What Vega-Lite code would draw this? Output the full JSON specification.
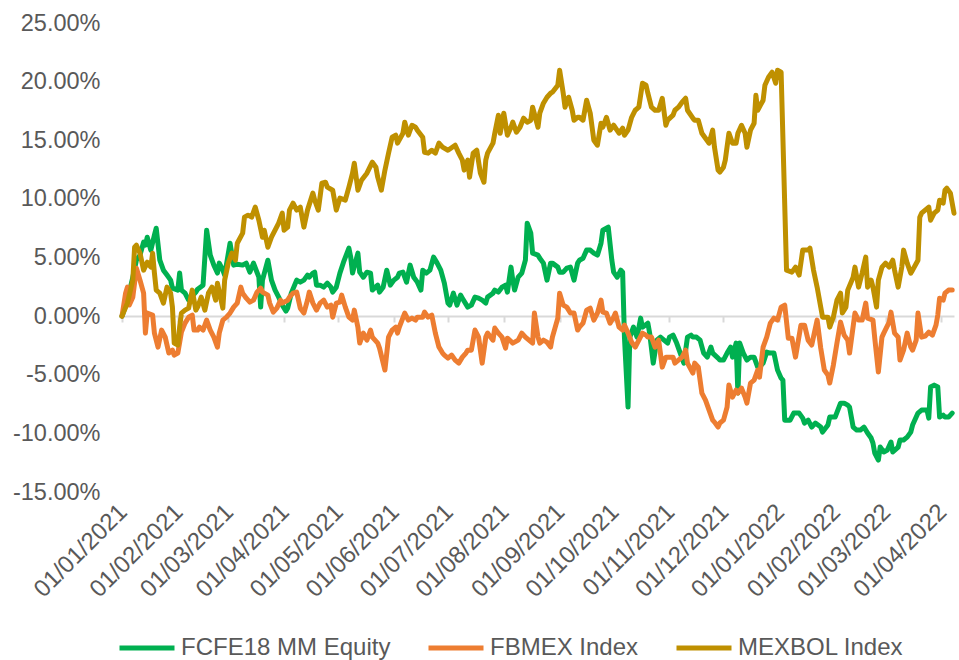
{
  "$schema": "https://vega.github.io/schema/vega-lite/v6.json",
  "width": 832,
  "height": 469,
  "autosize": {"type": "none"},
  "padding": {"left": 122, "top": 23, "right": 5, "bottom": 168},
  "background": "white",
  "config": {
    "view": {"stroke": null},
    "font": "Liberation Sans",
    "axis": {"labelFont": "Liberation Sans", "labelColor": "#595959", "labelFontSize": 23.5},
    "legend": {"labelFont": "Liberation Sans"}
  },
  "datasets": {
    "fcfe": [
      {"date":"2021-01-01","value":0},{"date":"2021-01-04","value":1.36},{"date":"2021-01-07","value":3.32},{"date":"2021-01-09","value":4.77},{"date":"2021-01-11","value":5.2},{"date":"2021-01-13","value":6.31},{"date":"2021-01-14","value":6.05},{"date":"2021-01-15","value":6.73},{"date":"2021-01-17","value":5.63},{"date":"2021-01-19","value":6.91},{"date":"2021-01-20","value":7.5},{"date":"2021-01-22","value":4.77},{"date":"2021-01-24","value":3.92},{"date":"2021-01-26","value":3.5},{"date":"2021-01-28","value":3.07},{"date":"2021-01-29","value":2.39},{"date":"2021-02-01","value":2.22},{"date":"2021-02-02","value":3.67},{"date":"2021-02-03","value":2.22},{"date":"2021-02-05","value":1.96},{"date":"2021-02-07","value":1.36},{"date":"2021-02-09","value":1.7},{"date":"2021-02-11","value":2.05},{"date":"2021-02-12","value":2.3},{"date":"2021-02-15","value":2.64},{"date":"2021-02-17","value":7.33},{"date":"2021-02-19","value":5.2},{"date":"2021-02-21","value":4.35},{"date":"2021-02-23","value":3.67},{"date":"2021-02-24","value":4.52},{"date":"2021-02-26","value":3.92},{"date":"2021-02-27","value":3.5},{"date":"2021-03-02","value":6.22},{"date":"2021-03-04","value":4.35},{"date":"2021-03-06","value":4.43},{"date":"2021-03-09","value":4.35},{"date":"2021-03-11","value":4.52},{"date":"2021-03-13","value":3.75},{"date":"2021-03-15","value":4.52},{"date":"2021-03-18","value":3.32},{"date":"2021-03-19","value":0.77},{"date":"2021-03-20","value":3.07},{"date":"2021-03-23","value":4.77},{"date":"2021-03-25","value":3.07},{"date":"2021-03-27","value":2.22},{"date":"2021-03-29","value":1.62},{"date":"2021-03-31","value":0.94},{"date":"2021-04-02","value":0.43},{"date":"2021-04-03","value":0.68},{"date":"2021-04-05","value":1.96},{"date":"2021-04-08","value":3.07},{"date":"2021-04-10","value":2.9},{"date":"2021-04-12","value":3.07},{"date":"2021-04-14","value":3.5},{"date":"2021-04-15","value":3.32},{"date":"2021-04-17","value":3.67},{"date":"2021-04-18","value":3.75},{"date":"2021-04-19","value":2.64},{"date":"2021-04-21","value":2.64},{"date":"2021-04-23","value":2.47},{"date":"2021-04-25","value":2.81},{"date":"2021-04-27","value":2.47},{"date":"2021-04-28","value":2.05},{"date":"2021-04-30","value":2.47},{"date":"2021-05-02","value":3.67},{"date":"2021-05-04","value":4.6},{"date":"2021-05-07","value":5.8},{"date":"2021-05-08","value":5.03},{"date":"2021-05-09","value":3.67},{"date":"2021-05-12","value":5.37},{"date":"2021-05-13","value":3.75},{"date":"2021-05-15","value":3.32},{"date":"2021-05-17","value":3.75},{"date":"2021-05-19","value":3.67},{"date":"2021-05-20","value":2.22},{"date":"2021-05-23","value":2.64},{"date":"2021-05-24","value":2.05},{"date":"2021-05-26","value":2.47},{"date":"2021-05-28","value":3.92},{"date":"2021-05-30","value":2.64},{"date":"2021-06-01","value":3.07},{"date":"2021-06-03","value":3.32},{"date":"2021-06-04","value":3.67},{"date":"2021-06-06","value":3.75},{"date":"2021-06-08","value":2.9},{"date":"2021-06-10","value":4.35},{"date":"2021-06-12","value":3.32},{"date":"2021-06-14","value":2.9},{"date":"2021-06-16","value":2.22},{"date":"2021-06-17","value":3.92},{"date":"2021-06-19","value":3.67},{"date":"2021-06-21","value":3.92},{"date":"2021-06-23","value":5.03},{"date":"2021-06-25","value":4.52},{"date":"2021-06-27","value":3.92},{"date":"2021-06-29","value":2.81},{"date":"2021-07-01","value":1.11},{"date":"2021-07-02","value":0.94},{"date":"2021-07-04","value":1.96},{"date":"2021-07-06","value":0.94},{"date":"2021-07-08","value":1.79},{"date":"2021-07-09","value":1.53},{"date":"2021-07-12","value":0.77},{"date":"2021-07-14","value":0.94},{"date":"2021-07-16","value":1.62},{"date":"2021-07-18","value":1.53},{"date":"2021-07-20","value":1.36},{"date":"2021-07-22","value":1.11},{"date":"2021-07-23","value":1.62},{"date":"2021-07-26","value":1.96},{"date":"2021-07-27","value":2.22},{"date":"2021-07-29","value":2.05},{"date":"2021-07-31","value":2.47},{"date":"2021-08-02","value":2.64},{"date":"2021-08-03","value":2.05},{"date":"2021-08-05","value":4.18},{"date":"2021-08-06","value":3.07},{"date":"2021-08-07","value":2.22},{"date":"2021-08-09","value":3.32},{"date":"2021-08-11","value":3.67},{"date":"2021-08-13","value":4.77},{"date":"2021-08-14","value":7.93},{"date":"2021-08-16","value":7.08},{"date":"2021-08-17","value":5.37},{"date":"2021-08-20","value":5.2},{"date":"2021-08-21","value":4.94},{"date":"2021-08-23","value":4.52},{"date":"2021-08-25","value":3.07},{"date":"2021-08-27","value":4.52},{"date":"2021-08-28","value":4.52},{"date":"2021-08-31","value":4.18},{"date":"2021-09-01","value":3.75},{"date":"2021-09-03","value":3.75},{"date":"2021-09-05","value":4.09},{"date":"2021-09-07","value":4.18},{"date":"2021-09-09","value":3.07},{"date":"2021-09-11","value":4.52},{"date":"2021-09-12","value":4.77},{"date":"2021-09-14","value":4.94},{"date":"2021-09-16","value":5.63},{"date":"2021-09-18","value":5.63},{"date":"2021-09-20","value":5.37},{"date":"2021-09-22","value":5.2},{"date":"2021-09-24","value":6.22},{"date":"2021-09-25","value":7.33},{"date":"2021-09-28","value":7.59},{"date":"2021-09-30","value":4.77},{"date":"2021-10-01","value":3.75},{"date":"2021-10-03","value":3.32},{"date":"2021-10-05","value":3.92},{"date":"2021-10-06","value":3.75},{"date":"2021-10-07","value":-1.79},{"date":"2021-10-09","value":-7.76},{"date":"2021-10-10","value":-1.79},{"date":"2021-10-12","value":-0.94},{"date":"2021-10-14","value":-1.79},{"date":"2021-10-16","value":-0.17},{"date":"2021-10-17","value":-0.94},{"date":"2021-10-20","value":-0.6},{"date":"2021-10-21","value":-1.45},{"date":"2021-10-23","value":-4.01},{"date":"2021-10-25","value":-2.05},{"date":"2021-10-27","value":-1.79},{"date":"2021-10-29","value":-2.05},{"date":"2021-10-31","value":-2.3},{"date":"2021-11-01","value":-1.79},{"date":"2021-11-03","value":-1.62},{"date":"2021-11-05","value":-2.3},{"date":"2021-11-07","value":-3.15},{"date":"2021-11-09","value":-4.01},{"date":"2021-11-11","value":-1.79},{"date":"2021-11-13","value":-1.62},{"date":"2021-11-14","value":-1.79},{"date":"2021-11-16","value":-1.79},{"date":"2021-11-18","value":-2.05},{"date":"2021-11-20","value":-3.15},{"date":"2021-11-22","value":-3.5},{"date":"2021-11-24","value":-2.64},{"date":"2021-11-25","value":-3.15},{"date":"2021-11-28","value":-3.58},{"date":"2021-11-29","value":-3.75},{"date":"2021-12-01","value":-3.75},{"date":"2021-12-03","value":-3.15},{"date":"2021-12-05","value":-2.64},{"date":"2021-12-06","value":-3.5},{"date":"2021-12-08","value":-2.3},{"date":"2021-12-09","value":-6.56},{"date":"2021-12-10","value":-2.3},{"date":"2021-12-12","value":-3.15},{"date":"2021-12-14","value":-3.75},{"date":"2021-12-16","value":-3.5},{"date":"2021-12-18","value":-3.5},{"date":"2021-12-20","value":-4.35},{"date":"2021-12-21","value":-4.35},{"date":"2021-12-23","value":-4.01},{"date":"2021-12-25","value":-3.07},{"date":"2021-12-27","value":-3.15},{"date":"2021-12-29","value":-3.15},{"date":"2021-12-31","value":-4.6},{"date":"2022-01-02","value":-5.29},{"date":"2022-01-03","value":-5.46},{"date":"2022-01-04","value":-8.87},{"date":"2022-01-07","value":-8.87},{"date":"2022-01-09","value":-8.27},{"date":"2022-01-12","value":-8.27},{"date":"2022-01-14","value":-8.7},{"date":"2022-01-15","value":-9.12},{"date":"2022-01-17","value":-8.87},{"date":"2022-01-19","value":-9.46},{"date":"2022-01-21","value":-9.12},{"date":"2022-01-24","value":-9.46},{"date":"2022-01-25","value":-9.89},{"date":"2022-01-28","value":-9.29},{"date":"2022-01-29","value":-8.61},{"date":"2022-02-01","value":-8.61},{"date":"2022-02-04","value":-7.42},{"date":"2022-02-06","value":-7.42},{"date":"2022-02-08","value":-7.59},{"date":"2022-02-09","value":-7.76},{"date":"2022-02-11","value":-9.46},{"date":"2022-02-13","value":-9.72},{"date":"2022-02-15","value":-9.72},{"date":"2022-02-17","value":-9.46},{"date":"2022-02-19","value":-9.97},{"date":"2022-02-21","value":-10.4},{"date":"2022-02-22","value":-10.83},{"date":"2022-02-23","value":-11.68},{"date":"2022-02-25","value":-12.28},{"date":"2022-02-26","value":-11.17},{"date":"2022-02-28","value":-11.59},{"date":"2022-03-02","value":-11.42},{"date":"2022-03-04","value":-10.74},{"date":"2022-03-05","value":-11.59},{"date":"2022-03-08","value":-11.17},{"date":"2022-03-09","value":-10.57},{"date":"2022-03-11","value":-10.57},{"date":"2022-03-13","value":-10.32},{"date":"2022-03-15","value":-9.89},{"date":"2022-03-16","value":-9.29},{"date":"2022-03-19","value":-8.27},{"date":"2022-03-21","value":-8.01},{"date":"2022-03-24","value":-8.01},{"date":"2022-03-25","value":-8.7},{"date":"2022-03-26","value":-6.05},{"date":"2022-03-28","value":-5.88},{"date":"2022-03-30","value":-6.05},{"date":"2022-03-31","value":-8.61},{"date":"2022-04-02","value":-8.44},{"date":"2022-04-03","value":-8.61},{"date":"2022-04-05","value":-8.61},{"date":"2022-04-07","value":-8.27}
    ],
    "fbmex": [
      {"date":"2021-01-01","value":0},{"date":"2021-01-03","value":1.96},{"date":"2021-01-04","value":2.47},{"date":"2021-01-05","value":0.94},{"date":"2021-01-07","value":1.62},{"date":"2021-01-09","value":4.09},{"date":"2021-01-11","value":3.07},{"date":"2021-01-13","value":1.96},{"date":"2021-01-14","value":-1.45},{"date":"2021-01-15","value":0.26},{"date":"2021-01-18","value":0.09},{"date":"2021-01-19","value":-1.45},{"date":"2021-01-21","value":-2.64},{"date":"2021-01-23","value":-1.19},{"date":"2021-01-25","value":-1.79},{"date":"2021-01-27","value":-3.15},{"date":"2021-01-29","value":-2.9},{"date":"2021-01-30","value":-3.32},{"date":"2021-02-01","value":-3.15},{"date":"2021-02-03","value":-1.36},{"date":"2021-02-05","value":-0.6},{"date":"2021-02-07","value":-0.09},{"date":"2021-02-09","value":0.09},{"date":"2021-02-10","value":-1.19},{"date":"2021-02-12","value":-1.19},{"date":"2021-02-13","value":-0.94},{"date":"2021-02-15","value":-1.19},{"date":"2021-02-17","value":-0.34},{"date":"2021-02-19","value":-1.19},{"date":"2021-02-21","value":-1.79},{"date":"2021-02-23","value":-2.64},{"date":"2021-02-24","value":-1.45},{"date":"2021-02-26","value":-0.34},{"date":"2021-02-28","value":-0.09},{"date":"2021-03-02","value":0.26},{"date":"2021-03-04","value":0.77},{"date":"2021-03-06","value":1.11},{"date":"2021-03-08","value":2.47},{"date":"2021-03-09","value":1.96},{"date":"2021-03-11","value":1.53},{"date":"2021-03-13","value":1.19},{"date":"2021-03-15","value":1.36},{"date":"2021-03-17","value":2.05},{"date":"2021-03-19","value":2.39},{"date":"2021-03-20","value":2.05},{"date":"2021-03-23","value":1.79},{"date":"2021-03-24","value":1.11},{"date":"2021-03-26","value":0.34},{"date":"2021-03-28","value":0.68},{"date":"2021-03-30","value":1.36},{"date":"2021-03-31","value":1.11},{"date":"2021-04-03","value":1.36},{"date":"2021-04-04","value":1.62},{"date":"2021-04-06","value":1.96},{"date":"2021-04-08","value":2.05},{"date":"2021-04-10","value":0.68},{"date":"2021-04-12","value":0.26},{"date":"2021-04-14","value":1.36},{"date":"2021-04-15","value":2.05},{"date":"2021-04-17","value":1.11},{"date":"2021-04-19","value":0.51},{"date":"2021-04-21","value":1.11},{"date":"2021-04-23","value":1.36},{"date":"2021-04-25","value":0.77},{"date":"2021-04-27","value":0.94},{"date":"2021-04-28","value":-0.09},{"date":"2021-04-30","value":1.11},{"date":"2021-05-02","value":1.19},{"date":"2021-05-03","value":1.79},{"date":"2021-05-05","value":0.77},{"date":"2021-05-07","value":-0.09},{"date":"2021-05-09","value":-0.34},{"date":"2021-05-10","value":0.51},{"date":"2021-05-12","value":-0.94},{"date":"2021-05-13","value":-2.3},{"date":"2021-05-15","value":-1.45},{"date":"2021-05-17","value":-2.05},{"date":"2021-05-19","value":-1.19},{"date":"2021-05-20","value":-1.79},{"date":"2021-05-23","value":-2.3},{"date":"2021-05-24","value":-2.73},{"date":"2021-05-27","value":-4.6},{"date":"2021-05-29","value":-1.79},{"date":"2021-05-31","value":-1.19},{"date":"2021-06-02","value":-0.94},{"date":"2021-06-03","value":-1.45},{"date":"2021-06-04","value":-0.94},{"date":"2021-06-07","value":0.26},{"date":"2021-06-09","value":-0.34},{"date":"2021-06-11","value":-0.17},{"date":"2021-06-13","value":-0.34},{"date":"2021-06-14","value":-0.09},{"date":"2021-06-17","value":-0.09},{"date":"2021-06-18","value":0.34},{"date":"2021-06-20","value":-0.09},{"date":"2021-06-22","value":0.09},{"date":"2021-06-24","value":-1.45},{"date":"2021-06-26","value":-2.64},{"date":"2021-06-28","value":-3.15},{"date":"2021-06-29","value":-3.32},{"date":"2021-07-01","value":-3.58},{"date":"2021-07-03","value":-3.32},{"date":"2021-07-05","value":-3.75},{"date":"2021-07-07","value":-4.01},{"date":"2021-07-09","value":-3.5},{"date":"2021-07-11","value":-3.15},{"date":"2021-07-12","value":-2.9},{"date":"2021-07-14","value":-2.9},{"date":"2021-07-16","value":-1.19},{"date":"2021-07-18","value":-1.79},{"date":"2021-07-20","value":-4.01},{"date":"2021-07-22","value":-1.79},{"date":"2021-07-23","value":-1.45},{"date":"2021-07-26","value":-2.05},{"date":"2021-07-27","value":-1.02},{"date":"2021-07-29","value":-1.45},{"date":"2021-07-31","value":-1.79},{"date":"2021-08-02","value":-2.73},{"date":"2021-08-03","value":-1.88},{"date":"2021-08-06","value":-2.3},{"date":"2021-08-07","value":-2.22},{"date":"2021-08-09","value":-2.05},{"date":"2021-08-11","value":-1.45},{"date":"2021-08-13","value":-1.79},{"date":"2021-08-15","value":-2.05},{"date":"2021-08-17","value":-2.3},{"date":"2021-08-18","value":0.26},{"date":"2021-08-20","value":-1.79},{"date":"2021-08-21","value":-2.3},{"date":"2021-08-23","value":-2.05},{"date":"2021-08-25","value":-2.22},{"date":"2021-08-27","value":-2.64},{"date":"2021-08-28","value":-1.79},{"date":"2021-08-31","value":-0.17},{"date":"2021-09-01","value":1.96},{"date":"2021-09-03","value":0.94},{"date":"2021-09-05","value":0.77},{"date":"2021-09-07","value":0.26},{"date":"2021-09-09","value":0.26},{"date":"2021-09-11","value":-1.19},{"date":"2021-09-12","value":-0.94},{"date":"2021-09-14","value":-0.6},{"date":"2021-09-16","value":0.51},{"date":"2021-09-18","value":0.68},{"date":"2021-09-20","value":-0.34},{"date":"2021-09-22","value":0.26},{"date":"2021-09-24","value":1.36},{"date":"2021-09-25","value":0.34},{"date":"2021-09-27","value":0.26},{"date":"2021-09-29","value":-0.6},{"date":"2021-10-01","value":-0.09},{"date":"2021-10-02","value":0.26},{"date":"2021-10-04","value":-0.94},{"date":"2021-10-06","value":-1.19},{"date":"2021-10-07","value":-0.77},{"date":"2021-10-09","value":-1.45},{"date":"2021-10-11","value":-2.22},{"date":"2021-10-13","value":-2.64},{"date":"2021-10-15","value":-2.05},{"date":"2021-10-17","value":-1.45},{"date":"2021-10-19","value":-1.62},{"date":"2021-10-20","value":-1.79},{"date":"2021-10-22","value":-1.79},{"date":"2021-10-24","value":-2.64},{"date":"2021-10-26","value":-2.05},{"date":"2021-10-28","value":-4.35},{"date":"2021-10-30","value":-3.5},{"date":"2021-10-31","value":-3.5},{"date":"2021-11-03","value":-3.5},{"date":"2021-11-04","value":-4.01},{"date":"2021-11-06","value":-3.75},{"date":"2021-11-08","value":-3.5},{"date":"2021-11-10","value":-2.9},{"date":"2021-11-11","value":-4.01},{"date":"2021-11-14","value":-4.86},{"date":"2021-11-15","value":-4.01},{"date":"2021-11-17","value":-4.35},{"date":"2021-11-19","value":-6.56},{"date":"2021-11-21","value":-7.16},{"date":"2021-11-23","value":-8.01},{"date":"2021-11-25","value":-8.87},{"date":"2021-11-26","value":-9.04},{"date":"2021-11-28","value":-9.46},{"date":"2021-11-29","value":-9.12},{"date":"2021-12-01","value":-8.87},{"date":"2021-12-03","value":-7.76},{"date":"2021-12-04","value":-5.88},{"date":"2021-12-06","value":-6.91},{"date":"2021-12-08","value":-6.31},{"date":"2021-12-09","value":-6.56},{"date":"2021-12-11","value":-6.14},{"date":"2021-12-13","value":-6.91},{"date":"2021-12-14","value":-7.42},{"date":"2021-12-16","value":-5.71},{"date":"2021-12-18","value":-5.46},{"date":"2021-12-20","value":-4.6},{"date":"2021-12-21","value":-5.2},{"date":"2021-12-23","value":-2.64},{"date":"2021-12-25","value":-1.79},{"date":"2021-12-27","value":-0.6},{"date":"2021-12-29","value":-0.17},{"date":"2021-12-31","value":-0.34},{"date":"2022-01-02","value":0.77},{"date":"2022-01-04","value":0.94},{"date":"2022-01-06","value":-1.88},{"date":"2022-01-08","value":-1.88},{"date":"2022-01-10","value":-3.5},{"date":"2022-01-13","value":-0.77},{"date":"2022-01-15","value":-0.77},{"date":"2022-01-17","value":-2.05},{"date":"2022-01-19","value":-2.47},{"date":"2022-01-22","value":-0.34},{"date":"2022-01-24","value":-2.73},{"date":"2022-01-26","value":-4.6},{"date":"2022-01-28","value":-5.03},{"date":"2022-01-29","value":-5.71},{"date":"2022-01-31","value":-4.18},{"date":"2022-02-02","value":-2.3},{"date":"2022-02-04","value":-0.51},{"date":"2022-02-06","value":-1.62},{"date":"2022-02-08","value":-2.05},{"date":"2022-02-09","value":-3.15},{"date":"2022-02-12","value":0.26},{"date":"2022-02-14","value":-0.34},{"date":"2022-02-16","value":-0.34},{"date":"2022-02-18","value":1.11},{"date":"2022-02-19","value":-0.17},{"date":"2022-02-22","value":-0.34},{"date":"2022-02-23","value":-1.88},{"date":"2022-02-25","value":-4.77},{"date":"2022-02-27","value":-1.79},{"date":"2022-02-28","value":-1.45},{"date":"2022-03-03","value":-0.51},{"date":"2022-03-04","value":0.34},{"date":"2022-03-06","value":-1.45},{"date":"2022-03-08","value":-1.79},{"date":"2022-03-09","value":-3.75},{"date":"2022-03-11","value":-2.9},{"date":"2022-03-13","value":-1.45},{"date":"2022-03-15","value":-2.64},{"date":"2022-03-16","value":-2.9},{"date":"2022-03-18","value":-2.05},{"date":"2022-03-19","value":0.26},{"date":"2022-03-21","value":-1.79},{"date":"2022-03-23","value":-1.71},{"date":"2022-03-25","value":-1.36},{"date":"2022-03-27","value":-1.62},{"date":"2022-03-29","value":-0.77},{"date":"2022-03-30","value":0.09},{"date":"2022-03-31","value":1.53},{"date":"2022-04-02","value":1.36},{"date":"2022-04-03","value":1.96},{"date":"2022-04-05","value":2.22},{"date":"2022-04-07","value":2.22}
    ],
    "mexbol": [
      {"date":"2021-01-01","value":0},{"date":"2021-01-04","value":1.11},{"date":"2021-01-07","value":3.07},{"date":"2021-01-08","value":5.88},{"date":"2021-01-09","value":6.05},{"date":"2021-01-11","value":5.37},{"date":"2021-01-13","value":3.92},{"date":"2021-01-15","value":4.6},{"date":"2021-01-17","value":4.18},{"date":"2021-01-18","value":5.37},{"date":"2021-01-19","value":3.67},{"date":"2021-01-20","value":2.22},{"date":"2021-01-22","value":1.96},{"date":"2021-01-24","value":1.11},{"date":"2021-01-26","value":2.47},{"date":"2021-01-28","value":1.96},{"date":"2021-01-29","value":0.77},{"date":"2021-01-30","value":-2.3},{"date":"2021-02-01","value":-2.47},{"date":"2021-02-02","value":-0.94},{"date":"2021-02-03","value":0.26},{"date":"2021-02-05","value":0.51},{"date":"2021-02-07","value":0.68},{"date":"2021-02-09","value":2.22},{"date":"2021-02-11","value":0.51},{"date":"2021-02-12","value":0.77},{"date":"2021-02-14","value":1.62},{"date":"2021-02-16","value":0.51},{"date":"2021-02-18","value":1.96},{"date":"2021-02-20","value":2.47},{"date":"2021-02-22","value":1.36},{"date":"2021-02-23","value":2.81},{"date":"2021-02-26","value":0.68},{"date":"2021-02-27","value":3.07},{"date":"2021-03-01","value":4.52},{"date":"2021-03-03","value":5.37},{"date":"2021-03-05","value":4.77},{"date":"2021-03-06","value":6.22},{"date":"2021-03-09","value":7.08},{"date":"2021-03-10","value":8.44},{"date":"2021-03-12","value":8.61},{"date":"2021-03-14","value":8.44},{"date":"2021-03-16","value":9.29},{"date":"2021-03-18","value":8.18},{"date":"2021-03-20","value":6.73},{"date":"2021-03-21","value":7.33},{"date":"2021-03-23","value":5.88},{"date":"2021-03-25","value":6.73},{"date":"2021-03-27","value":7.33},{"date":"2021-03-29","value":7.93},{"date":"2021-03-31","value":8.78},{"date":"2021-04-01","value":7.33},{"date":"2021-04-03","value":7.59},{"date":"2021-04-04","value":9.04},{"date":"2021-04-06","value":9.63},{"date":"2021-04-08","value":9.04},{"date":"2021-04-10","value":9.29},{"date":"2021-04-12","value":7.59},{"date":"2021-04-14","value":9.04},{"date":"2021-04-17","value":10.49},{"date":"2021-04-18","value":9.89},{"date":"2021-04-20","value":9.04},{"date":"2021-04-22","value":11.34},{"date":"2021-04-24","value":11.42},{"date":"2021-04-25","value":11.0},{"date":"2021-04-28","value":10.74},{"date":"2021-04-30","value":9.04},{"date":"2021-05-02","value":10.06},{"date":"2021-05-05","value":9.89},{"date":"2021-05-07","value":11.0},{"date":"2021-05-09","value":12.19},{"date":"2021-05-10","value":13.04},{"date":"2021-05-12","value":10.74},{"date":"2021-05-14","value":11.59},{"date":"2021-05-17","value":12.19},{"date":"2021-05-20","value":13.13},{"date":"2021-05-22","value":12.7},{"date":"2021-05-23","value":11.85},{"date":"2021-05-25","value":10.74},{"date":"2021-05-27","value":12.45},{"date":"2021-05-29","value":13.9},{"date":"2021-05-31","value":15.26},{"date":"2021-06-02","value":15.43},{"date":"2021-06-03","value":14.75},{"date":"2021-06-06","value":15.6},{"date":"2021-06-07","value":16.54},{"date":"2021-06-09","value":15.43},{"date":"2021-06-11","value":16.28},{"date":"2021-06-13","value":16.11},{"date":"2021-06-14","value":15.86},{"date":"2021-06-17","value":15.26},{"date":"2021-06-18","value":13.98},{"date":"2021-06-20","value":13.9},{"date":"2021-06-22","value":14.15},{"date":"2021-06-24","value":13.9},{"date":"2021-06-26","value":14.75},{"date":"2021-06-28","value":14.41},{"date":"2021-07-01","value":14.15},{"date":"2021-07-05","value":14.58},{"date":"2021-07-07","value":13.9},{"date":"2021-07-09","value":13.3},{"date":"2021-07-10","value":12.45},{"date":"2021-07-12","value":13.3},{"date":"2021-07-13","value":11.85},{"date":"2021-07-15","value":13.9},{"date":"2021-07-17","value":14.15},{"date":"2021-07-19","value":12.19},{"date":"2021-07-21","value":11.42},{"date":"2021-07-22","value":13.3},{"date":"2021-07-23","value":13.9},{"date":"2021-07-26","value":14.75},{"date":"2021-07-27","value":15.6},{"date":"2021-07-29","value":17.14},{"date":"2021-07-30","value":15.6},{"date":"2021-08-01","value":17.31},{"date":"2021-08-03","value":15.43},{"date":"2021-08-05","value":16.11},{"date":"2021-08-06","value":16.54},{"date":"2021-08-08","value":15.69},{"date":"2021-08-10","value":16.11},{"date":"2021-08-12","value":16.88},{"date":"2021-08-14","value":16.54},{"date":"2021-08-16","value":16.71},{"date":"2021-08-17","value":17.82},{"date":"2021-08-20","value":16.11},{"date":"2021-08-21","value":17.31},{"date":"2021-08-23","value":18.16},{"date":"2021-08-25","value":18.67},{"date":"2021-08-27","value":19.01},{"date":"2021-08-28","value":19.1},{"date":"2021-08-31","value":19.69},{"date":"2021-09-01","value":20.97},{"date":"2021-09-03","value":19.01},{"date":"2021-09-04","value":17.82},{"date":"2021-09-06","value":18.67},{"date":"2021-09-08","value":17.56},{"date":"2021-09-09","value":16.71},{"date":"2021-09-11","value":16.96},{"date":"2021-09-12","value":16.96},{"date":"2021-09-14","value":16.71},{"date":"2021-09-16","value":18.41},{"date":"2021-09-18","value":17.31},{"date":"2021-09-20","value":15.0},{"date":"2021-09-22","value":14.58},{"date":"2021-09-24","value":16.45},{"date":"2021-09-25","value":16.11},{"date":"2021-09-27","value":16.96},{"date":"2021-09-29","value":15.86},{"date":"2021-10-01","value":16.28},{"date":"2021-10-04","value":15.6},{"date":"2021-10-06","value":16.03},{"date":"2021-10-07","value":15.43},{"date":"2021-10-09","value":15.86},{"date":"2021-10-11","value":16.96},{"date":"2021-10-13","value":17.56},{"date":"2021-10-15","value":17.82},{"date":"2021-10-17","value":19.86},{"date":"2021-10-19","value":19.69},{"date":"2021-10-20","value":19.01},{"date":"2021-10-22","value":17.82},{"date":"2021-10-24","value":17.56},{"date":"2021-10-26","value":17.56},{"date":"2021-10-28","value":18.58},{"date":"2021-10-30","value":16.28},{"date":"2021-10-31","value":16.71},{"date":"2021-11-03","value":17.14},{"date":"2021-11-04","value":17.56},{"date":"2021-11-06","value":17.82},{"date":"2021-11-08","value":18.24},{"date":"2021-11-10","value":18.58},{"date":"2021-11-11","value":17.56},{"date":"2021-11-14","value":16.88},{"date":"2021-11-15","value":16.71},{"date":"2021-11-17","value":16.71},{"date":"2021-11-19","value":15.6},{"date":"2021-11-21","value":15.17},{"date":"2021-11-23","value":14.75},{"date":"2021-11-25","value":15.86},{"date":"2021-11-26","value":14.41},{"date":"2021-11-28","value":12.45},{"date":"2021-11-29","value":12.28},{"date":"2021-12-01","value":12.7},{"date":"2021-12-02","value":13.3},{"date":"2021-12-04","value":15.6},{"date":"2021-12-06","value":14.75},{"date":"2021-12-08","value":14.75},{"date":"2021-12-09","value":15.6},{"date":"2021-12-11","value":16.28},{"date":"2021-12-13","value":15.6},{"date":"2021-12-14","value":14.41},{"date":"2021-12-16","value":15.86},{"date":"2021-12-18","value":16.45},{"date":"2021-12-19","value":18.84},{"date":"2021-12-20","value":17.56},{"date":"2021-12-23","value":18.41},{"date":"2021-12-24","value":19.69},{"date":"2021-12-26","value":20.37},{"date":"2021-12-28","value":20.8},{"date":"2021-12-30","value":19.86},{"date":"2021-12-31","value":20.97},{"date":"2022-01-02","value":20.8},{"date":"2022-01-05","value":3.92},{"date":"2022-01-08","value":3.75},{"date":"2022-01-10","value":4.18},{"date":"2022-01-12","value":3.5},{"date":"2022-01-14","value":5.63},{"date":"2022-01-17","value":5.63},{"date":"2022-01-18","value":5.8},{"date":"2022-01-20","value":3.92},{"date":"2022-01-22","value":2.47},{"date":"2022-01-24","value":0.77},{"date":"2022-01-25","value":-0.09},{"date":"2022-01-28","value":-0.09},{"date":"2022-01-29","value":-0.94},{"date":"2022-01-31","value":-0.09},{"date":"2022-02-02","value":1.36},{"date":"2022-02-04","value":1.96},{"date":"2022-02-05","value":0.26},{"date":"2022-02-07","value":0.77},{"date":"2022-02-08","value":2.22},{"date":"2022-02-11","value":3.32},{"date":"2022-02-12","value":4.18},{"date":"2022-02-14","value":2.47},{"date":"2022-02-16","value":3.67},{"date":"2022-02-18","value":5.03},{"date":"2022-02-19","value":2.47},{"date":"2022-02-21","value":3.07},{"date":"2022-02-22","value":2.47},{"date":"2022-02-24","value":0.77},{"date":"2022-02-25","value":3.07},{"date":"2022-02-27","value":4.18},{"date":"2022-03-01","value":4.52},{"date":"2022-03-03","value":4.18},{"date":"2022-03-05","value":4.77},{"date":"2022-03-06","value":3.92},{"date":"2022-03-08","value":2.47},{"date":"2022-03-10","value":4.18},{"date":"2022-03-11","value":5.63},{"date":"2022-03-13","value":4.52},{"date":"2022-03-15","value":3.67},{"date":"2022-03-16","value":3.92},{"date":"2022-03-19","value":4.77},{"date":"2022-03-20","value":8.44},{"date":"2022-03-21","value":8.78},{"date":"2022-03-23","value":9.04},{"date":"2022-03-25","value":9.29},{"date":"2022-03-26","value":8.18},{"date":"2022-03-28","value":8.78},{"date":"2022-03-30","value":9.04},{"date":"2022-03-31","value":9.89},{"date":"2022-04-02","value":9.63},{"date":"2022-04-03","value":10.74},{"date":"2022-04-04","value":10.91},{"date":"2022-04-06","value":10.49},{"date":"2022-04-08","value":8.78}
    ]
  },
  "layer": [
    {
      "data": {"name": "fcfe"},
      "mark": {"type": "line", "strokeWidth": 5, "strokeJoin": "round", "strokeCap": "round"},
      "encoding": {
        "x": {
          "field": "date",
          "type": "temporal",
          "scale": {"type": "utc", "domain": [{"year": 2021, "month": 1, "date": 1, "utc": true}, {"year": 2022, "month": 4, "date": 8, "utc": true}]},
          "axis": {
            "title": null,
            "orient": "bottom",
            "offset": -176,
            "format": "%d/%m/%Y",
            "tickCount": {"interval": "month", "step": 1},
            "grid": false,
            "domain": true,
            "domainColor": "#D9D9D9",
            "domainWidth": 2,
            "ticks": true,
            "tickColor": "#D9D9D9",
            "tickWidth": 2,
            "tickSize": 6,
            "labelAngle": -45,
            "labelAlign": "right",
            "labelBaseline": "middle",
            "labelFontSize": 24,
            "labelPadding": 186,
            "labelOffset": 1,
            "labelOverlap": false,
            "labelFlush": false,
            "zindex": 0
          }
        },
        "y": {
          "field": "value",
          "type": "quantitative",
          "scale": {"domain": [-15, 25], "nice": false, "zero": false},
          "axis": {
            "title": null,
            "values": [-15, -10, -5, 0, 5, 10, 15, 20, 25],
            "labelExpr": "(datum.value < 0 ? '-' : '') + format(abs(datum.value), '.2f') + '%'",
            "grid": false,
            "domain": false,
            "ticks": false,
            "labelPadding": 22,
            "labelBaseline": "middle"
          }
        },
        "color": {
          "datum": "FCFE18 MM Equity",
          "type": "nominal",
          "scale": {
            "domain": ["FCFE18 MM Equity", "FBMEX Index", "MEXBOL Index"],
            "range": ["#00B050", "#ED7D31", "#BF9000"]
          },
          "legend": {
            "title": null,
            "orient": "none",
            "legendX": -5,
            "legendY": 595,
            "direction": "horizontal",
            "symbolType": "stroke",
            "symbolSize": 3025,
            "symbolStrokeWidth": 5,
            "labelFontSize": 24,
            "labelColor": "#595959",
            "labelLimit": 500,
            "labelOffset": 4,
            "columnPadding": 27,
            "padding": 0
          }
        }
      }
    },
    {
      "data": {"name": "fbmex"},
      "mark": {"type": "line", "strokeWidth": 5, "strokeJoin": "round", "strokeCap": "round"},
      "encoding": {
        "x": {"field": "date", "type": "temporal"},
        "y": {"field": "value", "type": "quantitative"},
        "color": {"datum": "FBMEX Index", "type": "nominal"}
      }
    },
    {
      "data": {"name": "mexbol"},
      "mark": {"type": "line", "strokeWidth": 5, "strokeJoin": "round", "strokeCap": "round"},
      "encoding": {
        "x": {"field": "date", "type": "temporal"},
        "y": {"field": "value", "type": "quantitative"},
        "color": {"datum": "MEXBOL Index", "type": "nominal"}
      }
    }
  ]
}
